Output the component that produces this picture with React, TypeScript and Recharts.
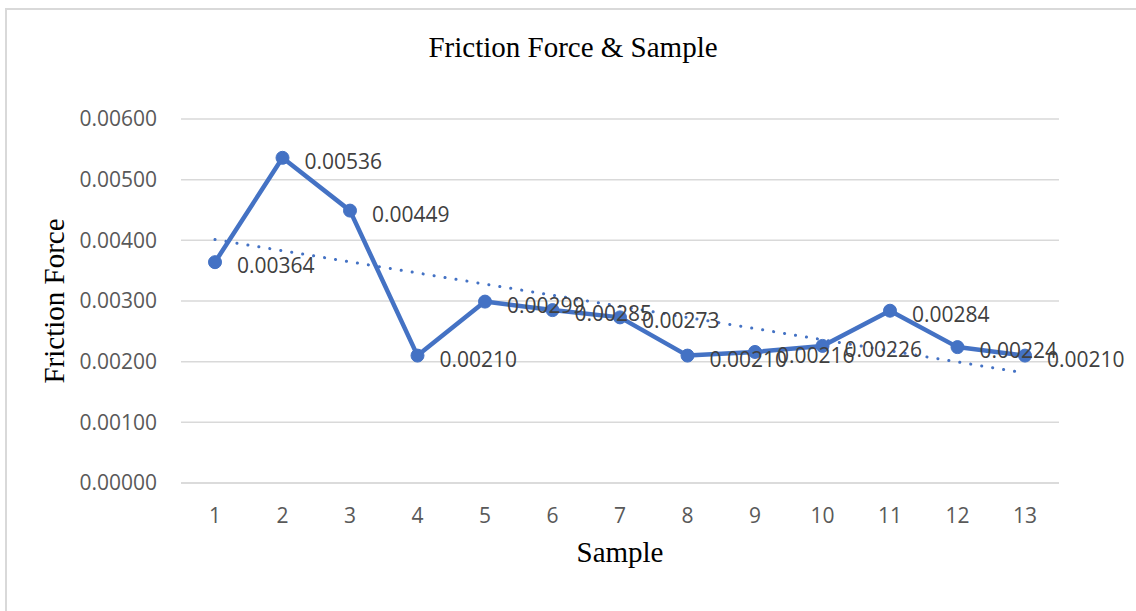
import { LineChart, Line, XAxis, YAxis, CartesianGrid, LabelList } from 'recharts';

const samples = ['1', '2', '3', '4', '5', '6', '7', '8', '9', '10', '11', '12', '13'];
const friction = [0.00364, 0.00536, 0.00449, 0.0021, 0.00299, 0.00285, 0.00273, 0.0021, 0.00216, 0.00226, 0.00284, 0.00224, 0.0021];
const yTicks = [0, 0.001, 0.002, 0.003, 0.004, 0.005, 0.006];

const BLUE = '#4472C4';
const GRID = '#d9d9d9';
const NUM_FONT = '"Open Sans", sans-serif';
const SERIF = '"Liberation Serif", "Times New Roman", serif';

// least-squares linear trendline over the sample index
function linearTrend(values: number[]): number[] {
  const n = values.length;
  const xs = values.map((_, i) => i + 1);
  const mx = xs.reduce((a, b) => a + b, 0) / n;
  const my = values.reduce((a, b) => a + b, 0) / n;
  let sxy = 0;
  let sxx = 0;
  xs.forEach((x, i) => {
    sxy += (x - mx) * (values[i] - my);
    sxx += (x - mx) * (x - mx);
  });
  const slope = sxy / sxx;
  return xs.map(x => my + slope * (x - mx));
}

const trend = linearTrend(friction);
const data = samples.map((s, i) => ({ sample: s, friction: friction[i], trend: trend[i] }));

function ValueLabel(props: any) {
  const { x, y, value } = props;
  return (
    <text x={x + 22} y={y + 3} dominantBaseline="central" textAnchor="start"
      fontFamily={NUM_FONT} fontSize={21} fill="#404040">
      {Number(value).toFixed(5)}
    </text>
  );
}

export default function App() {
  return (
    <div style={{ position: 'fixed', left: 0, top: 0, width: 1136, height: 611, background: '#fff', overflow: 'hidden' }}>
      <div style={{
        position: 'absolute', left: 5, top: 8, width: 1200, height: 700,
        borderTop: `2px solid ${GRID}`, borderLeft: `2px solid ${GRID}`,
      }} />
      <div style={{ position: 'absolute', left: 0, top: 0 }}>
        <LineChart width={1136} height={611} data={data}
          margin={{ top: 119, right: 77, bottom: 98, left: 0 }}>
          <CartesianGrid vertical={false} stroke={GRID} strokeWidth={1.5} />
          <XAxis dataKey="sample" height={30} padding={{ left: 34, right: 34 }}
            axisLine={{ stroke: GRID, strokeWidth: 1.5 }} tickLine={false} tickSize={0} tickMargin={25}
            tick={{ fontFamily: NUM_FONT, fontSize: 21, fill: '#595959' }} interval={0} />
          <YAxis width={181} domain={[0, 0.006]} ticks={yTicks} axisLine={false} tickLine={false}
            tickSize={0} tickMargin={24} tickFormatter={(v: number) => v.toFixed(5)}
            tick={{ fontFamily: NUM_FONT, fontSize: 21, fill: '#595959' }} />
          <Line dataKey="friction" stroke={BLUE} strokeWidth={4.5} strokeLinejoin="round"
            dot={{ r: 6.5, fill: BLUE, stroke: BLUE, strokeWidth: 1 }} isAnimationActive={false} />
          <Line dataKey="trend" stroke={BLUE} strokeWidth={3} strokeDasharray="0.1 11"
            strokeLinecap="round" dot={false} isAnimationActive={false} />
          <Line dataKey="friction" stroke="none" dot={false} isAnimationActive={false}>
            <LabelList dataKey="friction" content={ValueLabel} />
          </Line>
        </LineChart>
      </div>
      <svg width={1136} height={611} style={{ position: 'absolute', left: 0, top: 0, pointerEvents: 'none' }}>
        <text x={573} y={57} textAnchor="middle" fontFamily={SERIF} fontSize={29} fill="#000">
          Friction Force &amp; Sample
        </text>
        <text x={620} y={562} textAnchor="middle" fontFamily={SERIF} fontSize={29} fill="#000">
          Sample
        </text>
        <text transform="translate(64 301) rotate(-90)" textAnchor="middle" fontFamily={SERIF} fontSize={29} fill="#000">
          Friction Force
        </text>
      </svg>
    </div>
  );
}
